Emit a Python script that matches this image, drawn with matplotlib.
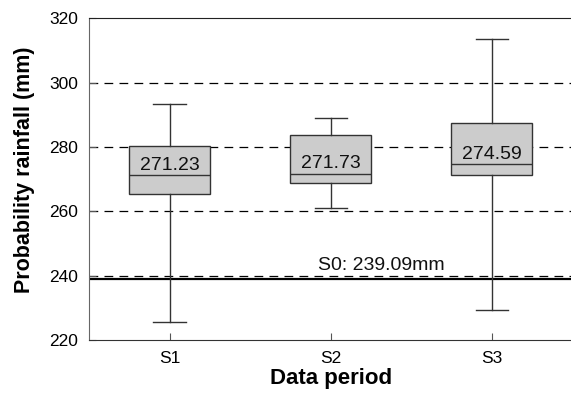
import matplotlib.pyplot as plt

plt.rcParams['font.family'] = ['Liberation Sans', 'DejaVu Sans']

periods = ['S1', 'S2', 'S3']
whislo = [225.5, 260.9, 229.2]
q1 = [265.3, 268.9, 271.2]
med = [271.23, 271.73, 274.59]
q3 = [280.2, 283.8, 287.5]
whishi = [293.2, 288.9, 313.6]
s0 = 239.09

fig = plt.figure(figsize=(5.71, 3.95), dpi=100)
ax = fig.add_axes([0.156, 0.139, 0.846, 0.815])

stats = []
for i, name in enumerate(periods):
    stats.append({'label': name, 'whislo': whislo[i], 'q1': q1[i], 'med': med[i],
                  'q3': q3[i], 'whishi': whishi[i], 'fliers': []})

ax.bxp(stats, positions=[1, 2, 3], widths=0.5, patch_artist=True, showfliers=False,
       boxprops=dict(facecolor='#cccccc', edgecolor='#333333', linewidth=1.0),
       medianprops=dict(color='#333333', linewidth=1.0),
       whiskerprops=dict(color='#333333', linewidth=1.0),
       capprops=dict(color='#333333', linewidth=1.0),
       capwidths=0.2)

for i, m in enumerate(med):
    ax.text(i + 1, m + 0.5, f'{m:.2f}', ha='center', va='bottom', fontsize=14, color='#111111')

ax.axhline(s0, color='black', linewidth=1.6, zorder=1)
ax.text(1.92, s0 + 1.5, f'S0: {s0:.2f}mm', ha='left', va='bottom', fontsize=14, color='#111111')

for g in [240, 260, 280, 300]:
    ax.axhline(g, color='black', linewidth=0.9, linestyle=(0, (7, 5)), zorder=0)

ax.set_xlim(0.5, 3.5)
ax.set_ylim(220, 320)
ax.set_yticks([220, 240, 260, 280, 300, 320])
ax.tick_params(axis='both', direction='in', length=5, labelsize=12.5, color='#555555')
ax.tick_params(axis='y', pad=8)
ax.tick_params(axis='x', pad=8)
ax.spines['right'].set_visible(False)
ax.spines['left'].set_color('#666666')
ax.spines['bottom'].set_color('#333333')
ax.spines['top'].set_color('#222222')

ax.set_xlabel('Data period', fontsize=16, fontweight='bold', labelpad=1)
ax.set_ylabel('Probability rainfall (mm)', fontsize=15.5, fontweight='bold')
ax.yaxis.set_label_coords(-0.112, 0.53)

fig.savefig('out.png', dpi=100)
